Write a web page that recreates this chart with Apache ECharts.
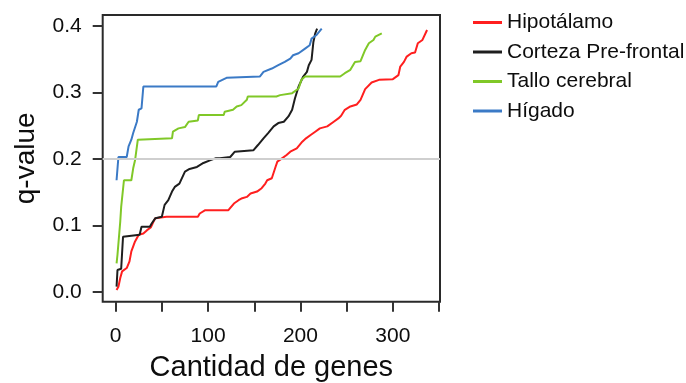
<!DOCTYPE html>
<html>
<head>
<meta charset="utf-8">
<script src="https://cdn.jsdelivr.net/npm/echarts@6/dist/echarts.min.js"></script>
<style>
  html, body { margin: 0; padding: 0; background: #fff; }
  #chart { width: 686px; height: 383px; }
</style>
</head>
<body>
<div id="chart"></div>
<script>
// Cumulative number of genes reaching each q-value, per tissue
const hipotalamoGenes = [1, 3, 5, 7, 12, 15, 17, 21, 25, 30, 34, 38, 41, 43, 55, 89, 91, 97, 122, 128, 133, 137, 142, 146, 153, 158, 162, 164, 169, 173, 175, 180, 185, 189, 196, 202, 206, 211, 216, 221, 229, 236, 241, 244, 248, 254, 261, 265, 270, 277, 285, 300, 306, 308, 312, 315, 320, 324, 327, 332, 337];
const hipotalamoQ     = [0.003, 0.008, 0.021, 0.031, 0.036, 0.046, 0.061, 0.076, 0.086, 0.088, 0.093, 0.097, 0.106, 0.111, 0.113, 0.113, 0.118, 0.123, 0.123, 0.133, 0.138, 0.141, 0.143, 0.148, 0.151, 0.156, 0.163, 0.168, 0.171, 0.188, 0.196, 0.201, 0.206, 0.211, 0.216, 0.226, 0.231, 0.236, 0.241, 0.246, 0.249, 0.256, 0.261, 0.265, 0.274, 0.279, 0.282, 0.289, 0.305, 0.315, 0.319, 0.320, 0.326, 0.339, 0.346, 0.354, 0.359, 0.360, 0.374, 0.379, 0.394];

const cortezaGenes = [1, 2, 6, 8, 10, 26, 28, 37, 39, 43, 50, 53, 57, 61, 64, 69, 75, 80, 88, 95, 102, 108, 113, 124, 129, 149, 154, 160, 165, 171, 176, 182, 187, 191, 194, 198, 203, 207, 209, 212, 214, 216, 218];
const cortezaQ     = [0.008, 0.033, 0.035, 0.083, 0.086, 0.086, 0.098, 0.098, 0.103, 0.111, 0.113, 0.131, 0.138, 0.151, 0.158, 0.163, 0.181, 0.185, 0.188, 0.194, 0.198, 0.201, 0.201, 0.203, 0.211, 0.213, 0.221, 0.231, 0.239, 0.249, 0.254, 0.256, 0.264, 0.274, 0.291, 0.309, 0.324, 0.331, 0.341, 0.349, 0.376, 0.389, 0.396];

const talloGenes = [1, 2, 5, 6, 8, 9, 17, 19, 21, 24, 26, 61, 62, 68, 75, 79, 89, 90, 117, 118, 127, 131, 136, 142, 143, 174, 178, 191, 198, 201, 205, 243, 248, 254, 259, 265, 270, 274, 279, 281, 288];
const talloQ     = [0.043, 0.056, 0.106, 0.128, 0.130, 0.168, 0.168, 0.186, 0.198, 0.229, 0.231, 0.231, 0.241, 0.246, 0.248, 0.256, 0.258, 0.266, 0.266, 0.271, 0.274, 0.279, 0.281, 0.289, 0.294, 0.294, 0.296, 0.299, 0.306, 0.319, 0.324, 0.324, 0.329, 0.334, 0.346, 0.347, 0.364, 0.374, 0.379, 0.384, 0.389];

const higadoGenes = [1, 3, 12, 14, 17, 19, 23, 25, 28, 30, 109, 111, 120, 156, 160, 169, 176, 183, 189, 192, 198, 205, 210, 212, 217, 223];
const higadoQ     = [0.168, 0.203, 0.203, 0.219, 0.229, 0.239, 0.256, 0.274, 0.276, 0.309, 0.309, 0.316, 0.322, 0.324, 0.331, 0.336, 0.341, 0.346, 0.351, 0.356, 0.359, 0.366, 0.371, 0.381, 0.386, 0.396];

const seriesNames = ['Hipotálamo', 'Corteza Pre-frontal', 'Tallo cerebral', 'Hígado'];
const seriesColors = ['#ff1f1f', '#1e1e1e', '#80c828', '#3b7ac6'];
const xTickValues = [0, 50, 100, 150, 200, 250, 300, 350];
const xLabelValues = [0, 100, 200, 300];
const yTickValues = [0, 0.1, 0.2, 0.3, 0.4];
const threshold = 0.2;

const zip = (xs, ys) => xs.map((x, i) => [x, ys[i]]);
const curves = [
  zip(hipotalamoGenes, hipotalamoQ),
  zip(cortezaGenes, cortezaQ),
  zip(talloGenes, talloQ),
  zip(higadoGenes, higadoQ)
];

const font = 'Liberation Sans, Arial, Helvetica, sans-serif';
const ink = '#0d0d0d';

const chart = echarts.init(document.getElementById('chart'), null, { renderer: 'canvas' });

chart.setOption({
  animation: false,
  backgroundColor: '#fff',
  grid: {
    left: 102.7, right: 246, top: 15, bottom: 81.3,
    containLabel: false, outerBoundsMode: 'none',
    show: true, borderColor: '#2a2a2a', borderWidth: 2, backgroundColor: 'transparent'
  },
  legend: {
    orient: 'vertical',
    left: 473, top: 12, padding: 0,
    data: seriesNames,
    icon: 'rect',
    itemWidth: 29, itemHeight: 3, itemGap: 8.5,
    textStyle: { fontSize: 21, color: ink, fontFamily: font, lineHeight: 20 }
  },
  xAxis: {
    type: 'value', min: -14, max: 351,
    axisLine: { show: false, onZero: false },
    splitLine: { show: false },
    axisTick: { show: true, inside: false, length: 10, customValues: xTickValues, lineStyle: { color: '#333', width: 2 } },
    axisLabel: { customValues: xLabelValues, margin: 24, fontSize: 21, color: ink, fontFamily: font },
    name: 'Cantidad de genes', nameLocation: 'middle', nameGap: 52,
    nameTextStyle: { fontSize: 29, color: ink, fontFamily: font }
  },
  yAxis: {
    type: 'value', min: -0.0146, max: 0.4165,
    axisLine: { show: false, onZero: false },
    splitLine: { show: false },
    axisTick: { show: true, inside: false, length: 10, customValues: yTickValues, lineStyle: { color: '#333', width: 2 } },
    axisLabel: { customValues: yTickValues, margin: 21, fontSize: 21, color: ink, fontFamily: font,
      formatter: v => v.toFixed(1) },
    name: 'q-value', nameLocation: 'middle', nameGap: 62,
    nameTextStyle: { fontSize: 28, color: ink, fontFamily: font }
  },
  series: [
    {
      type: 'line', data: [], silent: true, z: 1,
      markLine: {
        silent: true, symbol: 'none', label: { show: false },
        lineStyle: { color: '#cfcfcf', width: 2, type: 'solid' },
        data: [{ yAxis: threshold }]
      }
    }
  ].concat(curves.map((d, i) => ({
    name: seriesNames[i],
    type: 'line',
    data: d,
    z: 3,
    showSymbol: false,
    symbol: 'none',
    color: seriesColors[i],
    lineStyle: { width: 2, color: seriesColors[i] }
  })))
});
</script>
</body>
</html>
